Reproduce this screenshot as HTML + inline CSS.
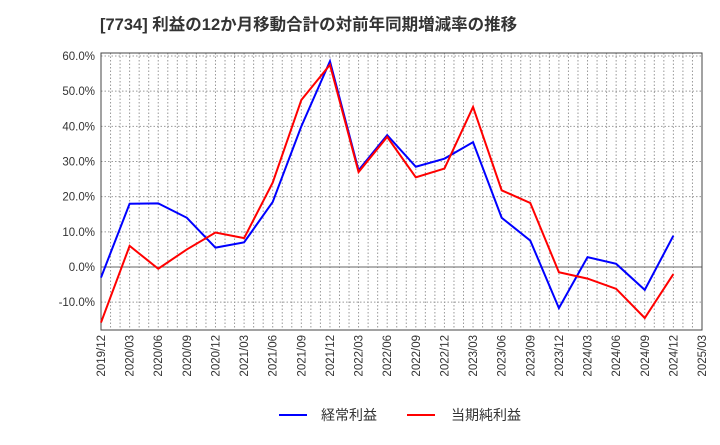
<!DOCTYPE html>
<html><head><meta charset="utf-8"><style>
body{margin:0;background:#fff;font-family:"Liberation Sans","Noto Sans CJK JP",sans-serif;}
</style></head><body>
<svg width="720" height="440" xmlns="http://www.w3.org/2000/svg" id="svg" font-family="Liberation Sans, Noto Sans CJK JP, sans-serif">
<text x="100" y="30" font-size="16.5" font-weight="bold" fill="#333">[7734]  利益の12か月移動合計の対前年同期増減率の推移</text>
<g id="grid"></g><g id="axes"></g><g id="lines"></g>
<g>
<line x1="279" y1="415" x2="307" y2="415" stroke="#0000ff" stroke-width="2"/>
<text x="321" y="420" font-size="14" fill="#333">経常利益</text>
<line x1="407" y1="415" x2="435" y2="415" stroke="#ff0000" stroke-width="2"/>
<text x="451" y="420" font-size="14" fill="#333">当期純利益</text>
</g>
</svg>
<script>
const categories=["2019/12","2020/03","2020/06","2020/09","2020/12","2021/03","2021/06","2021/09","2021/12","2022/03","2022/06","2022/09","2022/12","2023/03","2023/06","2023/09","2023/12","2024/03","2024/06","2024/09","2024/12","2025/03"];
const keijo=[-3,18,18.1,14,5.5,7,18.5,40,58.5,27.5,37.5,28.5,30.8,35.5,14,7.5,-11.7,2.8,0.9,-6.5,8.9];
const junri=[-15.8,6,-0.5,5,9.8,8.2,24,47.5,57.5,27,37,25.5,28,45.5,21.8,18.2,-1.5,-3.3,-6.2,-14.5,-2];
const yTicks=[60,50,40,30,20,10,0,-10];
const L=101,R=702,T=53,B=330;
const x=i=>L+(R-L)*i/(categories.length-1);
const y=v=>267-v*3.517;
const NS="http://www.w3.org/2000/svg";
function mk(p,t,a){const e=document.createElementNS(NS,t);for(const k in a)e.setAttribute(k,a[k]);document.getElementById(p).appendChild(e);return e;}
for(let m=1;m<63;m++){const xx=L+(R-L)*m/63;const e=mk("grid","line",{x1:xx,x2:xx,y1:T,y2:B,stroke:"#999","stroke-dasharray":"1.5,2","stroke-width":1});

}
yTicks.forEach(v=>{const e=mk("grid","line",{x1:L,x2:R,y1:y(v),y2:y(v),stroke:v===0?"#666":"#999","stroke-dasharray":v===0?"none":"1.5,2","stroke-width":1});


const t=mk("axes","text",{x:L-6,y:y(v)+4,"text-anchor":"end","font-size":"11.5",fill:"#333"});t.textContent=v.toFixed(1)+"%";

});
categories.forEach((c,i)=>{const t=mk("axes","text",{transform:`translate(${x(i)+4},${B+5}) rotate(-90)`,"text-anchor":"end","font-size":"11.5",fill:"#333"});t.textContent=c;

});
const fr=mk("axes","rect",{x:L,y:T,width:R-L,height:B-T,fill:"none",stroke:"#444","stroke-width":1});


[[keijo,"#0000ff","line-keijo"],[junri,"#ff0000","line-junri"]].forEach(([d,c,n])=>{
const p=mk("lines","polyline",{points:d.map((v,i)=>x(i)+","+y(v)).join(" "),fill:"none",stroke:c,"stroke-width":2});

});
</script>
</body></html>
